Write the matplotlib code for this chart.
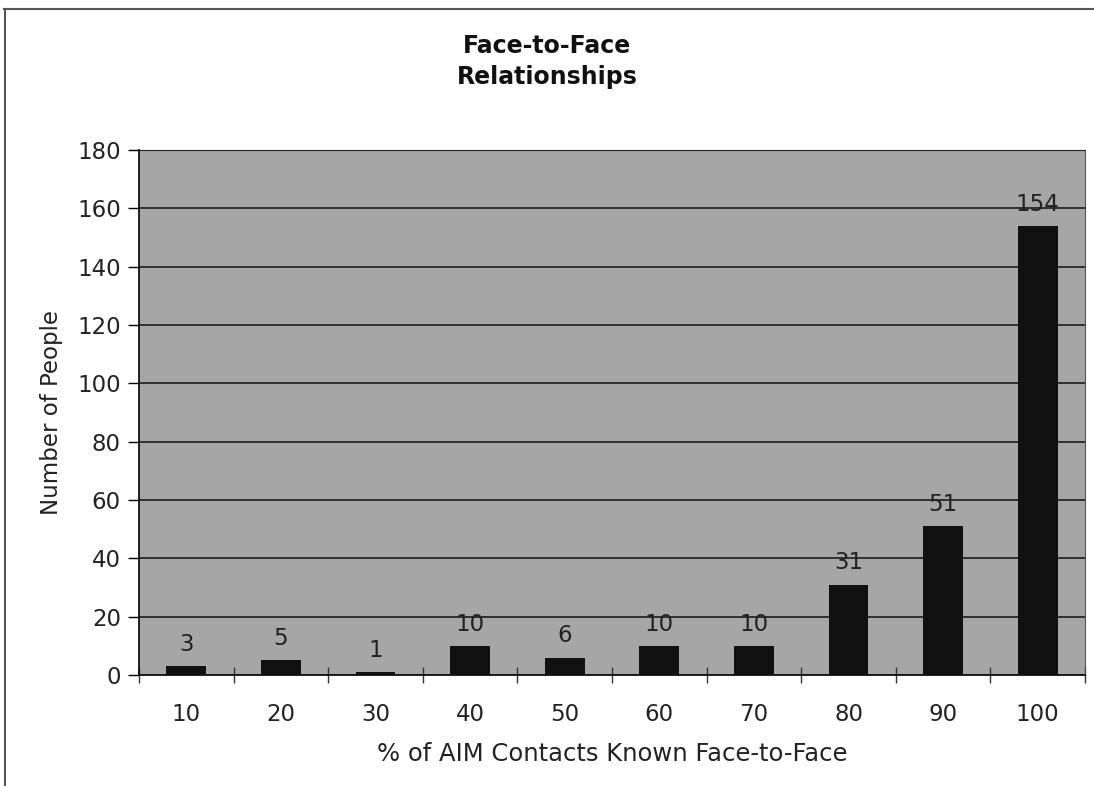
import matplotlib.pyplot as plt
from matplotlib.lines import Line2D
import numpy as np

# percent of AIM contacts known face-to-face, and how many people
pct_labels = ["10", "20", "30", "40", "50", "60", "70", "80", "90", "100"]
people = [3, 5, 1, 10, 6, 10, 10, 31, 51, 154]

plt.rcParams["font.family"] = ["DejaVu Sans"]

fig = plt.figure(figsize=(10.94, 7.86), dpi=100)
ax = fig.add_axes([0.1270, 0.1412, 0.8648, 0.668])

x = np.arange(len(people))
ax.set_facecolor("#a6a6a6")
ax.bar(x, people, width=0.42, color="#111111", zorder=3)

for xi, v in zip(x, people):
    ax.text(xi, v + 3.5, str(v), ha="center", va="bottom", fontsize=16.5,
            color="#222222", zorder=4)

ax.set_xlim(-0.5, len(people) - 0.5)
ax.set_ylim(0, 180)
ax.set_yticks(range(0, 181, 20))
ax.yaxis.grid(True, color="#111111", linewidth=1.1, zorder=1)
ax.set_axisbelow(True)

# category ticks sit on the boundaries between bars
ax.set_xticks(np.arange(-0.5, len(people), 1.0))
ax.set_xticklabels([])
ax.set_xticks(x, minor=True)
ax.set_xticklabels(pct_labels, minor=True)
ax.tick_params(axis="x", which="major", direction="inout", length=12,
               width=1, color="#333333")
ax.tick_params(axis="x", which="minor", length=0, pad=20, labelsize=16.5,
               labelcolor="#222222")
ax.tick_params(axis="y", direction="out", length=8, width=1,
               labelsize=16.5, labelcolor="#222222", pad=5)

for side in ["left", "bottom"]:
    ax.spines[side].set_color("#111111")
    ax.spines[side].set_linewidth(1.3)
ax.spines["top"].set_color("#222222")
ax.spines["right"].set_color("#555555")
ax.spines["right"].set_linewidth(0.8)

ax.set_ylabel("Number of People", fontsize=16.5, color="#222222", labelpad=10)
ax.set_xlabel("% of AIM Contacts Known Face-to-Face", fontsize=17.5,
              color="#222222", labelpad=12)

fig.text(0.5, 0.922, "Face-to-Face\nRelationships", ha="center", va="center",
         fontsize=17, fontweight="bold", color="#111111", linespacing=1.4)

# outer chart frame (top and left edges)
fig.add_artist(Line2D([4 / 1094, 1.0], [1 - 9 / 786] * 2, color="#555555",
                      linewidth=1.5, transform=fig.transFigure))
fig.add_artist(Line2D([5 / 1094] * 2, [0.0, 1 - 9 / 786], color="#555555",
                      linewidth=1.5, transform=fig.transFigure))

fig.savefig("out.png", dpi=100)
